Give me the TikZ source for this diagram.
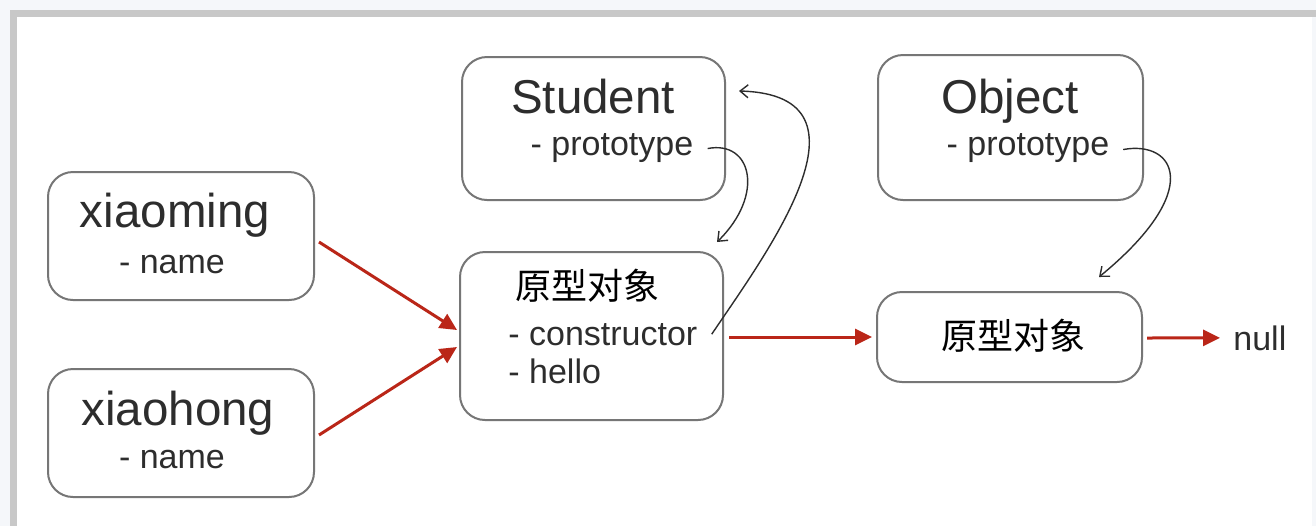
\documentclass[tikz,border=0pt]{standalone}
\usepackage{fontspec}
\setmainfont{Liberation Sans}
\newfontfamily\cjk{Noto Sans CJK SC}
\usetikzlibrary{arrows.meta}

\definecolor{framegray}{RGB}{200,200,200}
\definecolor{outerbg}{RGB}{245,247,250}
\definecolor{boxgray}{RGB}{118,118,118}
\definecolor{inkdark}{RGB}{45,45,45}
\definecolor{linkred}{RGB}{186,38,24}

\tikzset{
  box/.style={draw=boxgray, line width=1pt, rounded corners=12.5pt, inner sep=0pt},
  title/.style={inner sep=0pt, anchor=base, text=inkdark, font=\fontsize{23.75}{28}\selectfont},
  attr/.style={inner sep=0pt, anchor=base, text=inkdark, font=\fontsize{17}{20}\selectfont},
  cjktext/.style={inner sep=0pt, text=black, font=\cjk\fontsize{18}{22}\selectfont},
  redarrow/.style={draw=linkred, line width=1.5pt, -{Triangle[length=8.5pt,width=8pt]}},
  curvearrow/.style={draw=inkdark, line width=0.7pt, -{Straight Barb[length=4pt,width=6.5pt]}}
}

\begin{document}
\begin{tikzpicture}[x=0.5pt,y=-0.5pt]
\useasboundingbox (0,0) rectangle (1316,526);

% frame
\fill[outerbg] (0,0) rectangle (1316,526);
\fill[framegray] (10,10) rectangle (1316,17);
\fill[framegray] (10,10) rectangle (17,526);
\fill[white] (17,17) rectangle (1312,526);

% boxes
\node[box, minimum width=133pt, minimum height=64pt] (xiaoming) at (181,236) {};
\node[box, minimum width=133pt, minimum height=64pt] (xiaohong) at (181,433) {};
\node[box, minimum width=131.5pt, minimum height=71.5pt] (student) at (593.5,128.5) {};
\node[box, minimum width=131.5pt, minimum height=84pt] (proto) at (591.5,336) {};
\node[box, minimum width=132.5pt, minimum height=72.5pt] (object) at (1010.5,127.5) {};
\node[box, minimum width=132.5pt, minimum height=45pt] (objproto) at (1009.5,337) {};

% texts
\node[title] (xmname) at (175,227) {xiaoming};
\node[attr] (xmattr) at (172,273) {- name};
\node[title] (xhname) at (178,425) {xiaohong};
\node[attr] (xhattr) at (172,468) {- name};

\node[title] (stuname) at (593,113) {Student};
\node[attr] (stuproto) at (612,155) {- prototype};

\node[cjktext, anchor=base west] (protoname) at (515,299) {原型对象};
\node[attr, anchor=base west] (protoctor) at (508,345) {- constructor};
\node[attr, anchor=base west] (protohello) at (508,383) {- hello};

\node[title] (objname) at (1010,113) {Object};
\node[attr] (objattr) at (1028,155) {- prototype};

\node[cjktext] (objprotoname) at (1013,336) {原型对象};
\node[attr, anchor=base west] (null) at (1233,350) {null};

% red links
\draw[redarrow] ([shift={(4,6)}]xiaoming.east) -- ([shift={(-2,-6)}]proto.west);
\draw[redarrow] ([shift={(4,2)}]xiaohong.east) -- ([shift={(-2,11)}]proto.west);
\draw[redarrow] ([shift={(5,1)}]proto.east) -- ([shift={(-4,0)}]objproto.west);
\draw[redarrow] ([shift={(4,1)}]objproto.east) -- ([shift={(-13,0)}]null.west);

% prototype / constructor links
\draw[curvearrow] ([shift={(14,1)}]stuproto.east) .. controls (752,140) and (765,195) .. ([shift={(-7,-9)}]proto.north east);
\draw[curvearrow] ([shift={(14,0)}]protoctor.east) .. controls (765,255) and (885,95) .. ([shift={(13,35)}]student.north east);
\draw[curvearrow] ([shift={(13.5,2)}]objattr.east) .. controls (1175,140) and (1205,190) .. ([shift={(-44,-14)}]objproto.north east);

\end{tikzpicture}
\end{document}
